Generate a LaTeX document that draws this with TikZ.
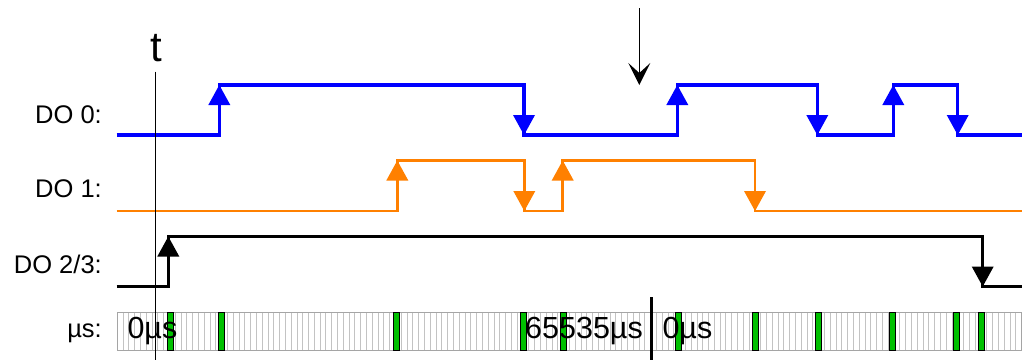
\documentclass[tikz,border=0pt]{standalone}
\usepackage{fontspec}
\setmainfont{Liberation Sans}
\usetikzlibrary{arrows.meta}
\definecolor{sigblue}{RGB}{0,0,255}
\definecolor{sigorange}{RGB}{255,128,0}
\definecolor{mkgreen}{RGB}{0,192,0}
\definecolor{tickgray}{RGB}{195,195,195}
\definecolor{framegray}{RGB}{165,165,165}
\newcommand\sigup[3]{\fill[#1] (#2,#3) -- ++(-11,20) -- ++(22,0) -- cycle;}
\newcommand\sigdown[3]{\fill[#1] (#2,#3) -- ++(-11,-20) -- ++(22,0) -- cycle;}
\begin{document}
\begin{tikzpicture}[x=1pt,y=-1pt,
  lbl/.style={anchor=base east,inner sep=0pt,font=\fontsize{25.5}{30}\selectfont},
  bartext/.style={anchor=base west,inner sep=0pt,font=\fontsize{30.5}{34}\selectfont},
  wave/.style={line width=3.2pt,line join=miter,line cap=butt},
  tickline/.style={draw=tickgray,line width=1pt},
  marker/.style={fill=mkgreen,draw=black,line width=1pt}]
\useasboundingbox (0,0) rectangle (1032,360);

% labels
\node[lbl] (l0) at (102,123) {DO 0:};
\node[lbl] (l1) at (102,197) {DO 1:};
\node[lbl] (l2) at (102,273) {DO 2/3:};
\node[lbl] (l3) at (102,337) {µs:};
\node[anchor=base,inner sep=0pt,font=\fontsize{42}{46}\selectfont] (tl) at (156.7,61.7) {t};

% bar
\fill[white] (117.3,312.3) rectangle (1021.7,350.3);
\foreach \i in {1,...,155} \draw[tickline] ({117.3+\i*5.797},312.3) -- ++(0,38);
\draw[framegray,line width=1.5pt] (117.3,312.3) rectangle (1021.7,350.3);
\foreach \g in {167.3,218,393.3,520.7,560.7,675.7,752,815.7,889.7,953.3,978.7}
  \draw[marker] (\g,312.3) rectangle ++(6.2,38);
\node[bartext] (z0) at (127.3,338.3) {0µs};
\node[bartext] (zmax) at (525,338.3) {65535µs};
\node[bartext] (z1) at (662.3,338.3) {0µs};
\draw[line width=3.5pt] (651.7,297.3) -- (651.7,360);

% DO 0
\draw[wave,sigblue] (116.7,135) -- (219.3,135) -- (219.3,85) -- (524,85) -- (524,135)
  -- (677.3,135) -- (677.3,85) -- (817.3,85) -- (817.3,135) -- (893.3,135)
  -- (893.3,85) -- (957.7,85) -- (957.7,135) -- (1022,135);
\sigup{sigblue}{219.3}{85}
\sigdown{sigblue}{524}{135}
\sigup{sigblue}{677.3}{85}
\sigdown{sigblue}{817.3}{135}
\sigup{sigblue}{893.3}{85}
\sigdown{sigblue}{957.7}{135}

% DO 1
\draw[wave,sigorange,line width=2.8pt] (116.7,211) -- (397.3,211) -- (397.3,160.5) -- (524.3,160.5)
  -- (524.3,211) -- (562.7,211) -- (562.7,160.5) -- (755,160.5) -- (755,211) -- (1022,211);
\sigup{sigorange}{397.3}{160.5}
\sigdown{sigorange}{524.3}{211}
\sigup{sigorange}{562.7}{160.5}
\sigdown{sigorange}{755}{211}

% DO 2/3
\draw[wave,black] (116.7,286.5) -- (168.3,286.5) -- (168.3,236.5) -- (982.7,236.5)
  -- (982.7,286.5) -- (1021.7,286.5);
\sigup{black}{168.3}{236.5}
\sigdown{black}{982.7}{286.5}

% t line
\coordinate (ttop) at (155.3,71.7);
\coordinate (tbot) at (155.3,360);
\draw[line width=1pt] (ttop) -- (tbot);

% marker arrow
\coordinate (atop) at (639.3,8.3);
\coordinate (abot) at (639.3,85);
\draw[line width=1.3pt,-{Stealth[length=22pt,width=22pt,inset=10pt]}] (atop) -- (abot);
\end{tikzpicture}
\end{document}
